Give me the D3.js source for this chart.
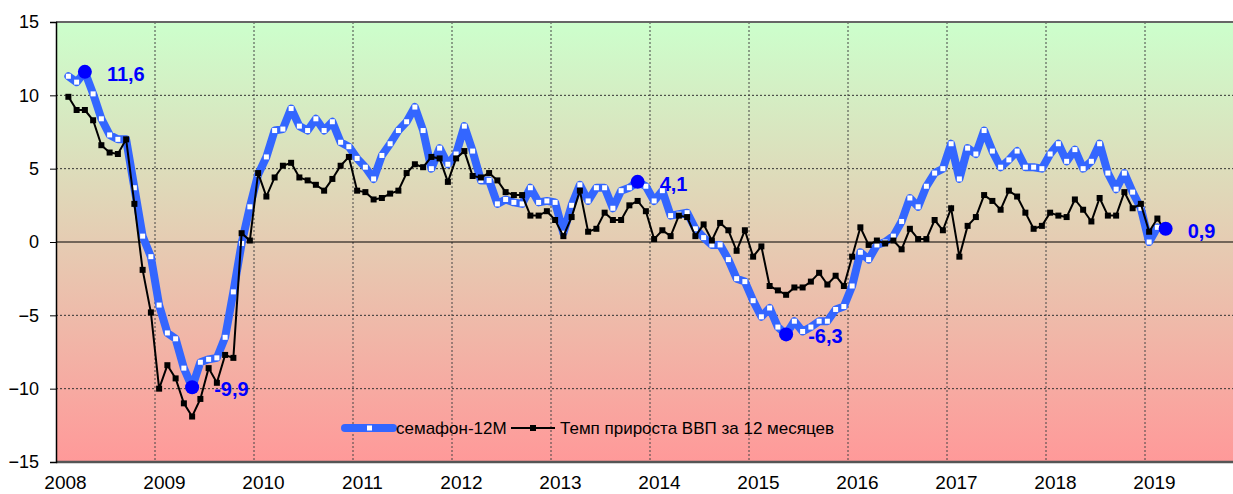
<!DOCTYPE html>
<html>
<head>
<meta charset="utf-8">
<script src="https://cdn.jsdelivr.net/npm/d3@7"></script>
<style>
  body { margin: 0; background: #fff; }
  text { font-family: Arial, "Liberation Sans", sans-serif; }
</style>
</head>
<body>
<svg id="chart" width="1233" height="494"></svg>
<script>
// series start in Feb 2008, one value per month
const startYear = 2008;
const startMonth = 1; // 0 = Jan

// семафон-12М
const semafon = [
  11.3, 10.9, 11.6, 10.1, 8.4, 7.3, 7.0, 7.0, 3.7, 0.4, -1.0,            // 2008
  -4.3, -6.2, -6.6, -8.6, -9.9, -8.2, -8.0, -7.9, -6.5, -3.4, -0.1, 2.4, // 2009
  4.6, 5.8, 7.6, 7.7, 9.1, 7.9, 7.6, 8.4, 7.6, 8.2, 6.8, 6.5,            // 2010
  5.7, 5.1, 4.3, 5.9, 6.7, 7.6, 8.2, 9.2, 7.6, 5.0, 6.4, 5.3,            // 2011
  6.0, 7.9, 6.2, 4.2, 4.2, 2.6, 2.9, 2.7, 2.6, 3.7, 2.7, 2.8,            // 2012
  2.7, 0.6, 2.5, 3.9, 2.8, 3.7, 3.7, 2.3, 3.5, 3.7, 4.1, 3.8,            // 2013
  2.8, 3.5, 1.8, 1.9, 2.0, 0.9, 0.3, -0.2, -0.2, -1.2, -2.5, -2.7,       // 2014
  -4.0, -5.1, -4.5, -5.8, -6.3, -5.4, -6.1, -5.8, -5.4, -5.4, -4.6, -4.4, // 2015
  -3.0, -0.7, -1.2, -0.2, 0.0, 0.4, 1.4, 3.0, 2.4, 3.8, 4.7, 5.0,        // 2016
  6.7, 4.3, 6.4, 6.0, 7.6, 6.2, 5.1, 5.6, 6.2, 5.1, 5.1, 5.0,            // 2017
  6.0, 6.7, 5.5, 6.3, 5.0, 5.5, 6.7, 4.7, 3.6, 4.7, 3.4, 2.3,            // 2018
  0.0, 1.0, 0.9                                                          // 2019
];

// Темп прироста ВВП за 12 месяцев
const gdp = [
  9.9, 9.0, 9.0, 8.3, 6.6, 6.1, 6.0, 7.0, 2.6, -1.9, -4.8,                  // 2008
  -10.0, -8.4, -9.3, -11.0, -11.9, -10.7, -8.6, -9.6, -7.7, -7.9, 0.6, 0.1, // 2009
  4.7, 3.1, 4.4, 5.2, 5.4, 4.4, 4.2, 3.9, 3.5, 4.3, 5.2, 5.8,               // 2010
  3.5, 3.4, 2.9, 3.0, 3.3, 3.5, 4.7, 5.3, 5.1, 5.8, 5.7, 4.1,               // 2011
  5.7, 6.2, 4.5, 4.4, 4.7, 4.2, 3.4, 3.2, 3.2, 1.8, 1.8, 2.1,               // 2012
  1.5, 0.4, 1.7, 3.5, 0.7, 0.9, 2.0, 1.5, 1.5, 2.5, 2.8, 2.1,               // 2013
  0.2, 0.8, 0.4, 1.8, 1.7, 0.4, 1.2, 0.1, 1.3, 0.8, -0.6, 0.8,              // 2014
  -1.0, -0.3, -3.0, -3.3, -3.6, -3.1, -3.1, -2.7, -2.1, -2.9, -2.3, -3.0,   // 2015
  -1.0, 1.0, -0.2, 0.1, -0.1, 0.1, -0.5, 0.9, 0.2, 0.2, 1.5, 0.8,           // 2016
  2.3, -1.0, 1.1, 1.7, 3.2, 2.8, 2.2, 3.5, 3.1, 2.0, 0.9, 1.1,              // 2017
  2.0, 1.8, 1.7, 2.9, 2.2, 1.4, 3.0, 1.8, 1.8, 3.4, 2.3, 2.6,               // 2018
  0.7, 1.6, 0.7                                                             // 2019
];

// highlighted points of the semafon line
const peakMonths = ["2008-04", "2009-05", "2013-11", "2015-05", "2019-03"];
const peakLabels = ["11,6", "-9,9", "4,1", "-6,3", "0,9"];

const yearLabels = ["2008", "2009", "2010", "2011", "2012", "2013",
                    "2014", "2015", "2016", "2017", "2018", "2019"];
const yTicks = [-15, -10, -5, 0, 5, 10, 15];
const legendNames = ["семафон-12М", "Темп прироста ВВП за 12 месяцев"];

const blue = "#3366ff";

const svg = d3.select("#chart");
const plotLeft = 56, plotRight = 1233, plotTop = 22, plotBottom = 462;

// x in months since Jan 2008, points sit in the middle of their month
const x = d3.scaleLinear().domain([0, (plotRight - plotLeft) / 8.25]).range([plotLeft, plotRight]);
const y = d3.scaleLinear().domain([-15, 15]).range([plotBottom, plotTop]);

function monthIndex(str) {
  const [yy, mm] = str.split("-").map(Number);
  return (yy - startYear) * 12 + (mm - 1);
}

const semData = semafon.map((v, i) => ({ m: startMonth + i, v }));
const gdpData = gdp.map((v, i) => ({ m: startMonth + i, v }));

// background gradient green -> red
const grad = svg.append("defs").append("linearGradient")
  .attr("id", "bg").attr("x1", 0).attr("y1", 0).attr("x2", 0).attr("y2", 1);
grad.append("stop").attr("offset", "0%").attr("stop-color", "#ccffcc");
grad.append("stop").attr("offset", "100%").attr("stop-color", "#ff9999");

svg.append("rect")
  .attr("x", plotLeft).attr("y", plotTop)
  .attr("width", plotRight - plotLeft).attr("height", plotBottom - plotTop)
  .attr("fill", "url(#bg)");

// gridlines
svg.append("g").selectAll("line")
  .data(yTicks.filter(d => d !== 0 && Math.abs(d) !== 15))
  .join("line")
  .attr("x1", plotLeft).attr("x2", plotRight)
  .attr("y1", d => y(d)).attr("y2", d => y(d))
  .attr("stroke", "#333").attr("stroke-width", 1)
  .attr("stroke-dasharray", "2,2");

svg.append("g").selectAll("line")
  .data(yearLabels.slice(1))
  .join("line")
  .attr("x1", (d, i) => x((i + 1) * 12)).attr("x2", (d, i) => x((i + 1) * 12))
  .attr("y1", plotTop).attr("y2", plotBottom)
  .attr("stroke", "#444").attr("stroke-width", 1)
  .attr("stroke-dasharray", "2,2");

// zero line and frame
svg.append("line")
  .attr("x1", plotLeft).attr("x2", plotRight).attr("y1", y(0)).attr("y2", y(0))
  .attr("stroke", "#000").attr("stroke-width", 1.2);
svg.append("line")
  .attr("x1", plotLeft).attr("x2", plotRight).attr("y1", plotTop).attr("y2", plotTop)
  .attr("stroke", "#666").attr("stroke-width", 2);
svg.append("line")
  .attr("x1", plotLeft).attr("x2", plotRight).attr("y1", plotBottom).attr("y2", plotBottom)
  .attr("stroke", "#555").attr("stroke-width", 2.5);

// y axis
const yAxis = svg.append("g")
  .attr("transform", `translate(${plotLeft},0)`)
  .call(d3.axisLeft(y).tickValues(yTicks).tickSize(6).tickPadding(11));
yAxis.select(".domain").attr("stroke", "#000").attr("stroke-width", 1.5);
yAxis.selectAll(".tick line").attr("stroke", "#000");
yAxis.selectAll("text")
  .attr("font-size", 18).attr("fill", "#000")
  .style("font-family", "Arial, 'Liberation Sans', sans-serif");

// x labels
svg.append("g").selectAll("text")
  .data(yearLabels)
  .join("text")
  .attr("x", (d, i) => x(i * 12) + 9.5)
  .attr("y", 489)
  .attr("text-anchor", "middle")
  .attr("font-size", 19)
  .attr("fill", "#000")
  .text(d => d);

// semafon line
const line = d3.line().x(d => x(d.m + 0.5)).y(d => y(d.v));

svg.append("path")
  .datum(semData)
  .attr("d", line)
  .attr("fill", "none")
  .attr("stroke", blue)
  .attr("stroke-width", 8)
  .attr("stroke-linejoin", "round")
  .attr("stroke-linecap", "round");

svg.append("g").selectAll("rect")
  .data(semData)
  .join("rect")
  .attr("x", d => x(d.m + 0.5) - 2.5)
  .attr("y", d => y(d.v) - 2.5)
  .attr("width", 5).attr("height", 5)
  .attr("fill", "#fff");

// gdp line
svg.append("path")
  .datum(gdpData)
  .attr("d", line)
  .attr("fill", "none")
  .attr("stroke", "#000")
  .attr("stroke-width", 2);

svg.append("g").selectAll("rect")
  .data(gdpData)
  .join("rect")
  .attr("x", d => x(d.m + 0.5) - 3)
  .attr("y", d => y(d.v) - 3)
  .attr("width", 6).attr("height", 6)
  .attr("fill", "#000");

// highlighted points
const peaks = peakMonths.map((p, i) => {
  const m = monthIndex(p);
  return { m, v: semafon[m - startMonth], label: peakLabels[i] };
});

svg.append("g").selectAll("circle")
  .data(peaks)
  .join("circle")
  .attr("cx", d => x(d.m + 0.5))
  .attr("cy", d => y(d.v))
  .attr("r", 7)
  .attr("fill", "#0000ff");

svg.append("g").selectAll("text")
  .data(peaks)
  .join("text")
  .attr("x", d => x(d.m + 0.5) + 22)
  .attr("y", d => y(d.v) + 9)
  .attr("font-size", 20)
  .attr("font-weight", "bold")
  .attr("fill", "#0000ff")
  .text(d => d.label);

// legend
const lg = svg.append("g").attr("transform", "translate(0,428)");
lg.append("line")
  .attr("x1", 345).attr("x2", 393).attr("y1", 0).attr("y2", 0)
  .attr("stroke", blue).attr("stroke-width", 8).attr("stroke-linecap", "round");
lg.append("rect")
  .attr("x", 367).attr("y", -2.5).attr("width", 5).attr("height", 5)
  .attr("fill", "#fff");
lg.append("text")
  .attr("x", 396).attr("y", 6)
  .attr("font-size", 17).attr("fill", "#000")
  .text(legendNames[0]);
lg.append("line")
  .attr("x1", 511).attr("x2", 555).attr("y1", 0).attr("y2", 0)
  .attr("stroke", "#000").attr("stroke-width", 2);
lg.append("rect")
  .attr("x", 530).attr("y", -3).attr("width", 6).attr("height", 6)
  .attr("fill", "#000");
lg.append("text")
  .attr("x", 560).attr("y", 6)
  .attr("font-size", 17).attr("fill", "#000")
  .text(legendNames[1]);
</script>
</body>
</html>
